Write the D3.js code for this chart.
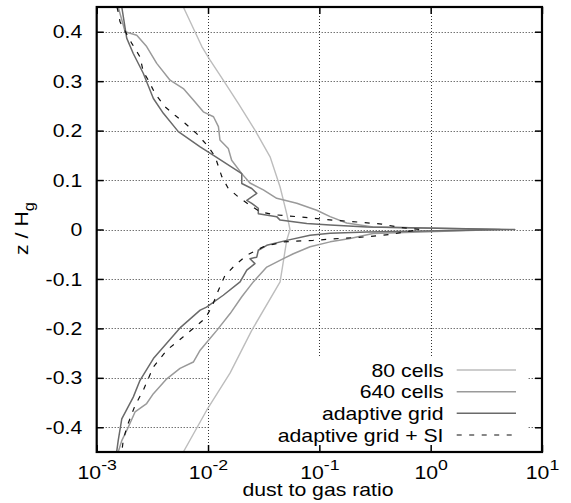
<!DOCTYPE html>
<html><head><meta charset="utf-8">
<script src="https://cdn.jsdelivr.net/npm/d3@7"></script>
<style>body{margin:0;background:#fff}svg{display:block}text{font-family:"Liberation Sans",Arial,sans-serif;fill:#000}</style>
</head><body><div id="chart"></div>
<script>
const xTicks = [1e-3, 1e-2, 1e-1, 1, 10];
const xTickExp = ["-3", "-2", "-1", "0", "1"];
const yTicks = [-0.4, -0.3, -0.2, -0.1, 0, 0.1, 0.2, 0.3, 0.4];
const yTickLabels = ["-0.4", "-0.3", "-0.2", "-0.1", "0", "0.1", "0.2", "0.3", "0.4"];
const seriesNames = ["80 cells", "640 cells", "adaptive grid", "adaptive grid + SI"];

const cells80 = [[6.0e-3,0.45],[8.8e-3,0.370],[1.04e-2,0.343],[1.37e-2,0.302],[1.87e-2,0.255],[2.64e-2,0.201],[3.61e-2,0.147],[4.44e-2,0.086],[5.09e-2,0.032],[5.45e-2,0.0],[5.09e-2,-0.022],[4.44e-2,-0.106],[2.47e-2,-0.204],[1.58e-2,-0.29],[9.7e-3,-0.366],[6.0e-3,-0.45]];
const cells640 = [[1.56e-3,0.45],[1.80e-3,0.400],[2.29e-3,0.393],[2.81e-3,0.370],[3.46e-3,0.336],[4.56e-3,0.302],[6.0e-3,0.285],[7.38e-3,0.262],[9.07e-3,0.238],[1.12e-2,0.228],[1.24e-2,0.208],[1.28e-2,0.181],[1.52e-2,0.164],[1.63e-2,0.140],[2.01e-2,0.113],[2.38e-2,0.094],[3.14e-2,0.080],[4.14e-2,0.063],[6.27e-2,0.053],[9.48e-2,0.039],[0.125,0.026],[0.176,0.013],[0.303,0.005],[4.2,0.0],[0.303,-0.008],[0.189,-0.018],[0.125,-0.025],[8.25e-2,-0.035],[5.84e-2,-0.049],[4.75e-2,-0.059],[3.37e-2,-0.076],[2.55e-2,-0.106],[2.01e-2,-0.136],[1.58e-2,-0.170],[1.20e-2,-0.204],[1.01e-2,-0.224],[8.5e-3,-0.244],[7.38e-3,-0.268],[5.6e-3,-0.281],[4.26e-3,-0.302],[3.23e-3,-0.332],[2.81e-3,-0.352],[2.21e-3,-0.369],[1.92e-3,-0.400],[1.68e-3,-0.427],[1.56e-3,-0.45]];
const adaptive = [[1.68e-3,0.45],[1.86e-3,0.387],[2.13e-3,0.356],[2.62e-3,0.316],[3.23e-3,0.265],[3.97e-3,0.235],[5.41e-3,0.198],[8.5e-3,0.167],[1.12e-2,0.150],[2.01e-2,0.113],[2.01e-2,0.093],[2.47e-2,0.083],[2.74e-2,0.073],[2.23e-2,0.059],[2.47e-2,0.053],[2.83e-2,0.043],[2.83e-2,0.032],[4.14e-2,0.026],[4.44e-2,0.019],[7.71e-2,0.012],[0.125,0.009],[0.267,0.005],[5.7,0.0],[0.267,-0.005],[0.125,-0.0075],[8.25e-2,-0.0115],[5.09e-2,-0.022],[3.37e-2,-0.032],[2.83e-2,-0.042],[2.74e-2,-0.056],[2.38e-2,-0.059],[2.64e-2,-0.069],[2.23e-2,-0.082],[1.94e-2,-0.106],[1.37e-2,-0.133],[9.7e-3,-0.157],[8.5e-3,-0.163],[5.6e-3,-0.199],[3.23e-3,-0.261],[2.45e-3,-0.305],[2.13e-3,-0.339],[1.68e-3,-0.383],[1.56e-3,-0.427],[1.51e-3,-0.45]];
const adaptiveSI = [[1.52e-3,0.45],[1.56e-3,0.44],[1.62e-3,0.420],[2.06e-3,0.377],[2.45e-3,0.349],[2.62e-3,0.319],[2.91e-3,0.302],[3.34e-3,0.275],[4.11e-3,0.248],[5.05e-3,0.231],[6.21e-3,0.215],[7.91e-3,0.194],[1.01e-2,0.167],[1.16e-2,0.147],[1.33e-2,0.107],[1.52e-2,0.083],[1.87e-2,0.066],[2.38e-2,0.049],[2.93e-2,0.036],[3.86e-2,0.030],[6.27e-2,0.026],[9.48e-2,0.022],[0.133,0.019],[0.223,0.015],[0.364,0.011],[0.531,0.004],[0.80,0.0],[0.589,-0.005],[0.432,-0.010],[0.258,-0.015],[0.153,-0.018],[8.78e-2,-0.022],[4.75e-2,-0.025],[3.14e-2,-0.035],[2.23e-2,-0.052],[1.75e-2,-0.072],[1.42e-2,-0.093],[1.24e-2,-0.123],[1.08e-2,-0.157],[9.4e-3,-0.180],[7.38e-3,-0.200],[6.0e-3,-0.217],[4.26e-3,-0.244],[3.23e-3,-0.278],[2.62e-3,-0.325],[2.21e-3,-0.356],[1.86e-3,-0.400],[1.73e-3,-0.427],[1.68e-3,-0.45]];

const W = 571, H = 503;
const L = 96.7, R = 542, T = 7, B = 452;
const SX = 1.18, FS = 18, FSUP = 15;

const svg = d3.select("#chart").append("svg").attr("width", W).attr("height", H);
svg.append("rect").attr("width", W).attr("height", H).attr("fill", "#fff");

const x = d3.scaleLog().domain([1e-3, 10]).range([L, R]);
const y = d3.scaleLinear().domain([-0.45, 0.45]).range([B, T]);

svg.append("defs").append("clipPath").attr("id", "clip")
  .append("rect").attr("x", L).attr("y", T).attr("width", R - L).attr("height", B - T);

// grid
const grid = svg.append("g").attr("stroke", "#333").attr("stroke-width", 1).attr("stroke-dasharray", "1,2");
grid.selectAll(".gx").data(xTicks.slice(1, -1)).join("line")
  .attr("x1", d => Math.round(x(d)) + 0.5).attr("x2", d => Math.round(x(d)) + 0.5)
  .attr("y1", T).attr("y2", B);
grid.selectAll(".gy").data(yTicks).join("line")
  .attr("x1", L).attr("x2", R)
  .attr("y1", d => Math.round(y(d)) + 0.5).attr("y2", d => Math.round(y(d)) + 0.5);

// key area blanks the grid
svg.append("rect").attr("x", 209.5).attr("y", 358).attr("width", 528 - 209.5).attr("height", B - 358).attr("fill", "#fff");

// curves
const line = d3.line().x(d => x(d[0])).y(d => y(d[1]));
const styles = [
  {data: cells80, color: "#bdbdbd", w: 1.4, dash: null},
  {data: cells640, color: "#9a9a9a", w: 1.5, dash: null},
  {data: adaptive, color: "#6a6a6a", w: 1.5, dash: null},
  {data: adaptiveSI, color: "#111", w: 1.2, dash: "5,7.5"}
];
const curves = svg.append("g").attr("clip-path", "url(#clip)");
styles.forEach(s => {
  curves.append("path").datum(s.data).attr("d", line)
    .attr("fill", "none").attr("stroke", s.color).attr("stroke-width", s.w)
    .attr("stroke-linejoin", "round")
    .attr("stroke-dasharray", s.dash);
});

// axes
const gy = svg.append("g").attr("transform", `translate(${L},0)`)
  .call(d3.axisLeft(y).tickValues(yTicks).tickSize(-7).tickFormat((d, i) => yTickLabels[i]));
gy.select(".domain").remove();
gy.selectAll("line").attr("stroke", "#000").attr("stroke-width", 1.5);
gy.selectAll("text").attr("x", null).attr("dy", "0.34em")
  .attr("transform", `translate(-14.5,0) scale(${SX},1)`)
  .attr("font-size", FS).attr("font-family", '"Liberation Sans",Arial,sans-serif').attr("text-anchor", "end");

const gyr = svg.append("g").attr("transform", `translate(${R},0)`)
  .call(d3.axisRight(y).tickValues(yTicks).tickSize(-7).tickFormat(""));
gyr.select(".domain").remove();
gyr.selectAll("line").attr("stroke", "#000").attr("stroke-width", 1.5);

const gx = svg.append("g").attr("transform", `translate(0,${B})`)
  .call(d3.axisBottom(x).tickValues(xTicks).tickSize(-7).tickFormat(""));
gx.select(".domain").remove();
gx.selectAll("line").attr("stroke", "#000").attr("stroke-width", 1.5);
gx.selectAll(".tick").each(function(d, i) {
  const t = d3.select(this).append("text")
    .attr("transform", `translate(0,26.5) scale(${SX},1)`)
    .attr("text-anchor", "middle").attr("font-size", FS).attr("fill", "#000")
    .attr("font-family", '"Liberation Sans",Arial,sans-serif');
  t.append("tspan").text("10");
  t.append("tspan").attr("dy", -8.5).attr("font-size", FSUP).text(xTickExp[i]);
});

const gxt = svg.append("g").attr("transform", `translate(0,${T})`)
  .call(d3.axisTop(x).tickValues(xTicks).tickSize(-7).tickFormat(""));
gxt.select(".domain").remove();
gxt.selectAll("line").attr("stroke", "#000").attr("stroke-width", 1.5);

// border
svg.append("rect").attr("x", L).attr("y", T).attr("width", R - L).attr("height", B - T)
  .attr("fill", "none").attr("stroke", "#000").attr("stroke-width", 2.2);

// axis labels
svg.append("text").attr("transform", `translate(318,495.5) scale(${SX},1)`)
  .attr("text-anchor", "middle").attr("font-size", FS).text("dust to gas ratio");
const yl = svg.append("text").attr("transform", `translate(27.5,228.5) rotate(-90) scale(${SX},1)`)
  .attr("text-anchor", "middle").attr("font-size", FS);
yl.append("tspan").text("z / H");
yl.append("tspan").attr("dy", 6).attr("font-size", 14).text("g");

// legend
const rowY = [370, 391.7, 413.2, 435];
const leg = svg.append("g");
seriesNames.forEach((name, i) => {
  leg.append("text").attr("transform", `translate(443.5,${rowY[i] + 6.6}) scale(${SX},1)`)
    .attr("text-anchor", "end").attr("font-size", FS).text(name);
  leg.append("line").attr("x1", 456.7).attr("x2", i === 3 ? 512 : 516)
    .attr("y1", rowY[i]).attr("y2", rowY[i])
    .attr("stroke", styles[i].color).attr("stroke-width", styles[i].w)
    .attr("stroke-dasharray", styles[i].dash);
});
</script></body></html>
